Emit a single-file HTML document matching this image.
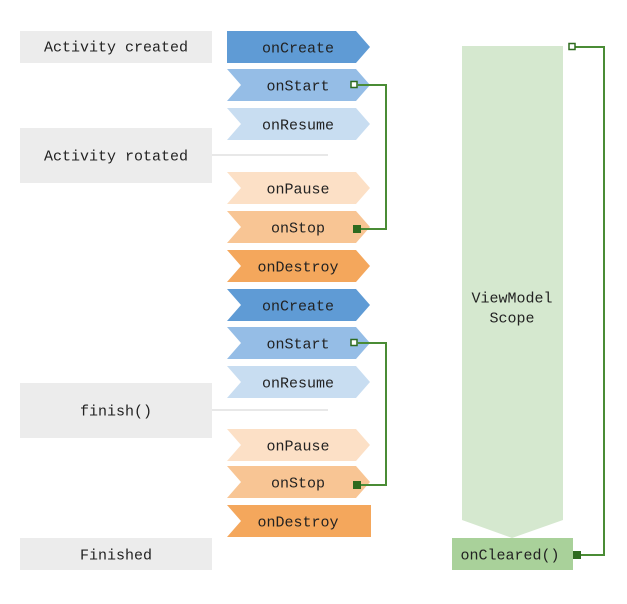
<!DOCTYPE html>
<html><head><meta charset="utf-8"><style>body{margin:0;background:#fff}svg{display:block}text{font-family:"Liberation Mono",monospace;font-size:15px;fill:#222;text-anchor:middle;dominant-baseline:central}</style></head><body>
<svg width="627" height="604" viewBox="0 0 627 604">
<g fill="#ececec">
<rect x="20" y="31" width="192" height="32"/>
<rect x="20" y="128" width="192" height="55"/>
<rect x="20" y="383" width="192" height="55"/>
<rect x="20" y="538" width="192" height="32"/>
</g>
<line x1="212" y1="155" x2="328" y2="155" stroke="#e0e0e0" stroke-width="1.5"/>
<line x1="212" y1="410" x2="328" y2="410" stroke="#e0e0e0" stroke-width="1.5"/>
<g transform="translate(0,1)">
<text x="116" y="47">Activity created</text>
<text x="116" y="156">Activity rotated</text>
<text x="116" y="411">finish()</text>
<text x="116" y="555">Finished</text>
</g>

<path d="M227,31 L356,31 L370,47 L356,63 L227,63 Z" fill="#5f9bd5"/>
<path d="M227,69 L356,69 L370,85 L356,101 L227,101 L241,85 Z" fill="#95bde6"/>
<path d="M227,108 L356,108 L370,124 L356,140 L227,140 L241,124 Z" fill="#c8ddf1"/>
<path d="M227,172 L356,172 L370,188 L356,204 L227,204 L241,188 Z" fill="#fce0c6"/>
<path d="M227,211 L356,211 L370,227 L356,243 L227,243 L241,227 Z" fill="#f8c594"/>
<path d="M227,250 L356,250 L370,266 L356,282 L227,282 L241,266 Z" fill="#f4a75c"/>
<path d="M227,289 L356,289 L370,305 L356,321 L227,321 L241,305 Z" fill="#5f9bd5"/>
<path d="M227,327 L356,327 L370,343 L356,359 L227,359 L241,343 Z" fill="#95bde6"/>
<path d="M227,366 L356,366 L370,382 L356,398 L227,398 L241,382 Z" fill="#c8ddf1"/>
<path d="M227,429 L356,429 L370,445 L356,461 L227,461 L241,445 Z" fill="#fce0c6"/>
<path d="M227,466 L356,466 L370,482 L356,498 L227,498 L241,482 Z" fill="#f8c594"/>
<path d="M227,505 L371,505 L371,537 L227,537 L241,521 Z" fill="#f4a75c"/>

<g transform="translate(0,1)">
<text x="298" y="48">onCreate</text>
<text x="298" y="86">onStart</text>
<text x="298" y="125">onResume</text>
<text x="298" y="189">onPause</text>
<text x="298" y="228">onStop</text>
<text x="298" y="267">onDestroy</text>
<text x="298" y="306">onCreate</text>
<text x="298" y="344">onStart</text>
<text x="298" y="383">onResume</text>
<text x="298" y="446">onPause</text>
<text x="298" y="483">onStop</text>
<text x="298" y="522">onDestroy</text>
</g>

<path d="M462,46 L563,46 L563,520 L512,538 L462,520 Z" fill="#d5e8cf"/>
<text x="512" y="299">ViewModel</text>
<text x="512" y="319">Scope</text>
<rect x="452" y="538" width="121" height="32" fill="#a9d19a"/>
<text x="510" y="556">onCleared()</text>

<g fill="none" stroke="#4a8c35" stroke-width="2">
<path d="M358,85 L386,85 L386,229 L358,229"/>
<path d="M358,343 L386,343 L386,485 L358,485"/>
<path d="M575,47 L604,47 L604,555 L577,555"/>
</g>
<g fill="#fff" stroke="#2e6b1f" stroke-width="1.5">
<rect x="351" y="81.5" width="6" height="6"/>
<rect x="351" y="339.5" width="6" height="6"/>
<rect x="569" y="43.5" width="6" height="6"/>
</g>
<g fill="#2e6b1f">
<rect x="353" y="225" width="8" height="8"/>
<rect x="353" y="481" width="8" height="8"/>
<rect x="573" y="551" width="8" height="8"/>
</g>
</svg>
</body></html>
